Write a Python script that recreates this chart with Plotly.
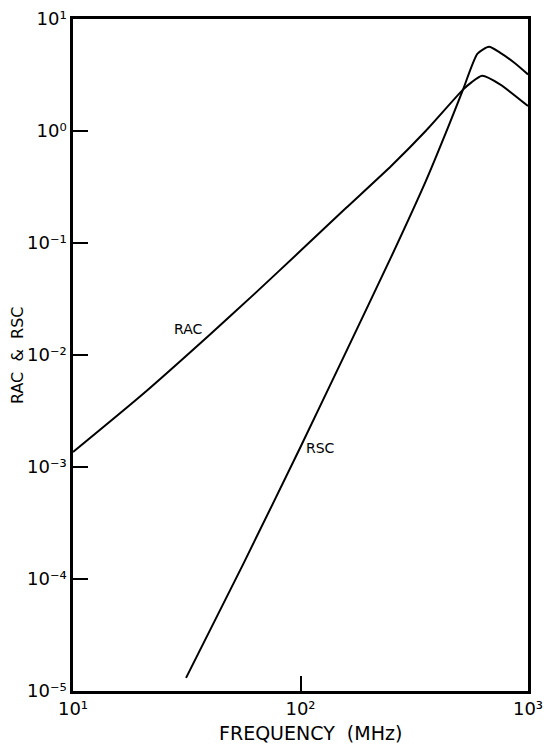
import math
import plotly.graph_objects as go

# RAC curve (frequency in MHz, value)
rac_freq = [10, 20, 39.8, 63.1, 100, 158, 251, 355, 518, 566, 628, 753, 1000]
rac_val = [1.36e-3, 4.37e-3, 0.0151, 0.0355, 0.0851, 0.204, 0.49, 1.0, 2.34, 2.73, 3.11, 2.61, 1.67]

# RSC curve
rsc_freq = [31.4, 56.2, 100, 158, 251, 355, 447, 518, 600, 674, 753, 871, 1000]
rsc_val = [1.31e-5, 1.38e-4, 1.51e-3, 0.0105, 0.0759, 0.355, 1.1, 2.34, 4.9, 5.64, 5.01, 4.07, 3.2]

x_tickvals = [10, 100, 1000]
x_ticktext = ["10¹", "10²", "10³"]
y_tickvals = [1e-5, 1e-4, 1e-3, 1e-2, 1e-1, 1e0, 1e1]
y_ticktext = ["10⁻⁵", "10⁻⁴", "10⁻³", "10⁻²", "10⁻¹", "10⁰", "10¹"]

FONT = "DejaVu Sans"

fig = go.Figure()
fig.add_trace(go.Scatter(x=rac_freq, y=rac_val, mode="lines", name="RAC",
                         line=dict(color="black", width=2, shape="spline", smoothing=0.6)))
fig.add_trace(go.Scatter(x=rsc_freq, y=rsc_val, mode="lines", name="RSC",
                         line=dict(color="black", width=2, shape="spline", smoothing=0.6)))

# curve labels
fig.add_annotation(x=math.log10(32), y=math.log10(0.0169), text="RAC", showarrow=False,
                   font=dict(family=FONT, size=14, color="black"))
fig.add_annotation(x=math.log10(123), y=math.log10(1.48e-3), text="RSC", showarrow=False,
                   font=dict(family=FONT, size=14, color="black"))

# axis titles
fig.add_annotation(xref="paper", yref="paper", x=0.521, y=-0.062, text="FREQUENCY  (MHz)",
                   showarrow=False, xanchor="center", yanchor="middle",
                   font=dict(family=FONT, size=19, color="black"))
fig.add_annotation(xref="paper", yref="paper", x=-0.123, y=0.5, text="RAC  &  RSC",
                   showarrow=False, xanchor="center", yanchor="middle", textangle=-90,
                   font=dict(family=FONT, size=16, color="black"))

fig.update_layout(
    width=545, height=742,
    margin=dict(l=65, r=25, t=11, b=59),
    paper_bgcolor="white", plot_bgcolor="white",
    showlegend=False,
    font=dict(family=FONT, color="black"),
    xaxis=dict(
        type="log", range=[1, 3], automargin=False, ticklabeloverflow="allow",
        tickvals=x_tickvals, ticktext=x_ticktext,
        ticks="inside", ticklen=15, tickwidth=2, tickcolor="black",
        showline=True, linecolor="black", linewidth=2.5, mirror=True,
        showgrid=False, zeroline=False,
        tickfont=dict(family=FONT, size=18, color="black"),
    ),
    yaxis=dict(
        type="log", range=[-5, 1], automargin=False, ticklabeloverflow="allow",
        tickvals=y_tickvals, ticktext=y_ticktext,
        ticks="inside", ticklen=15, tickwidth=2, tickcolor="black",
        showline=True, linecolor="black", linewidth=2.5, mirror=True,
        showgrid=False, zeroline=False,
        tickfont=dict(family=FONT, size=18, color="black"),
    ),
)

fig.write_html("out.html")
